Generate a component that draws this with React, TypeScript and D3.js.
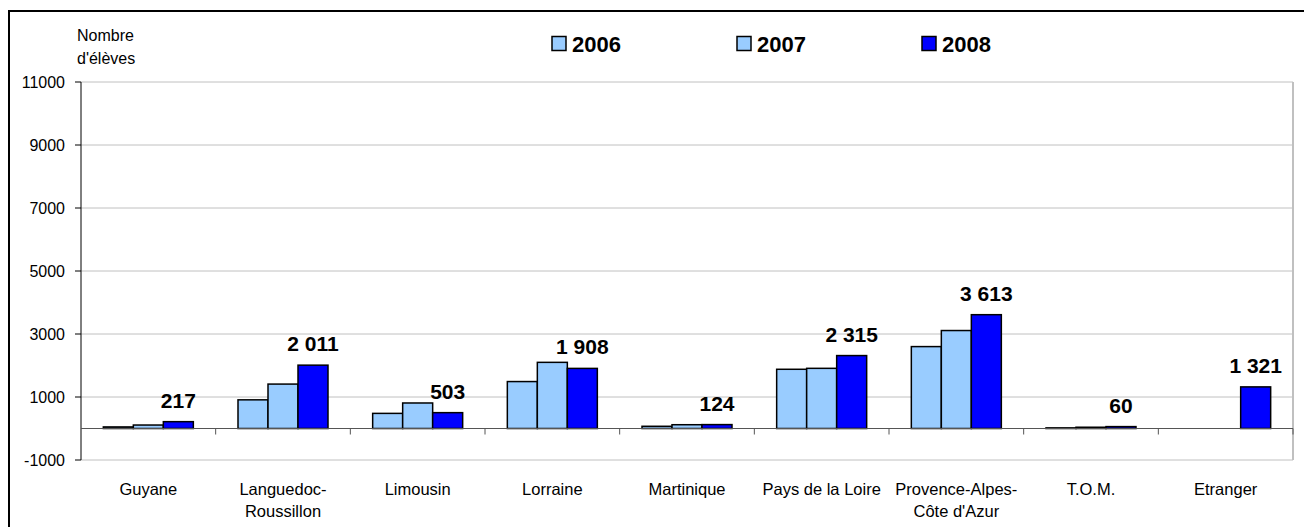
import React from "react";
import * as d3 from "d3";

const categories = [
  "Guyane",
  "Languedoc-\nRoussillon",
  "Limousin",
  "Lorraine",
  "Martinique",
  "Pays de la Loire",
  "Provence-Alpes-\nCôte d'Azur",
  "T.O.M.",
  "Etranger",
];
const seriesNames = ["2006", "2007", "2008"];
const values2006 = [50, 910, 480, 1490, 70, 1880, 2600, 20, 0];
const values2007 = [110, 1410, 810, 2100, 120, 1910, 3110, 40, 0];
const values2008 = [217, 2011, 503, 1908, 124, 2315, 3613, 60, 1321];
const yTicks = [-1000, 1000, 3000, 5000, 7000, 9000, 11000];
const colors = ["#99CCFF", "#99CCFF", "#0000FF"];

const W = 1304;
const H = 527;
const FONT = "'Liberation Sans', Arial, Helvetica, sans-serif";

export default function App() {
  const series = [values2006, values2007, values2008];
  const x = d3.scaleBand<string>().domain(categories).range([81, 1293]).paddingInner(0).paddingOuter(0);
  const groupW = 90;
  const xs = d3
    .scaleBand<string>()
    .domain(seriesNames)
    .range([(x.bandwidth() - groupW) / 2, (x.bandwidth() + groupW) / 2]);
  const y = d3.scaleLinear().domain([-1000, 11000]).range([460, 82]);
  const fmt = d3.formatLocale({ decimal: ",", thousands: "\u00a0", grouping: [3], currency: ["", "€"] }).format(",d");
  const [x0, x1] = x.range();

  return (
    <svg
      width={W}
      height={H}
      style={{ position: "absolute", left: 0, top: 0, background: "#fff" }}
      fontFamily={FONT}
    >
      <rect x={0} y={0} width={W} height={H} fill="#fff" />
      {/* outer frame */}
      <rect x={9} y={11} width={W + 10} height={H + 10} fill="none" stroke="#000" strokeWidth={2} />

      {/* gridlines */}
      {yTicks.map((t) => (
        <line key={t} x1={x0} x2={x1} y1={y(t)} y2={y(t)} stroke="#c0c0c0" strokeWidth={1} />
      ))}
      {/* plot area right border */}
      <line x1={x1} x2={x1} y1={y(11000)} y2={y(-1000)} stroke="#c0c0c0" strokeWidth={2} />

      {/* y axis */}
      <line x1={x0} x2={x0} y1={y(11000)} y2={y(-1000)} stroke="#000" strokeWidth={1} />
      {yTicks.map((t) => (
        <g key={"yt" + t}>
          <line x1={x0 - 6} x2={x0} y1={y(t)} y2={y(t)} stroke="#000" />
          <text x={65} y={y(t)} dy="0.36em" textAnchor="end" fontSize={16} fill="#000">
            {t}
          </text>
        </g>
      ))}

      {/* bars */}
      {categories.map((c, i) => (
        <g key={c} transform={`translate(${x(c)},0)`}>
          {series.map((s, j) => {
            const v = s[i];
            const top = y(Math.max(v, 0));
            const h = Math.abs(y(v) - y(0));
            return (
              <rect
                key={j}
                x={xs(seriesNames[j])}
                y={top}
                width={xs.bandwidth()}
                height={h}
                fill={colors[j]}
                stroke="#000"
                strokeWidth={1.5}
              />
            );
          })}
          <text
            x={(xs(seriesNames[2]) as number) + xs.bandwidth() / 2}
            y={y(values2008[i]) - 14}
            textAnchor="middle"
            fontSize={21}
            fontWeight="bold"
            fill="#000"
          >
            {fmt(values2008[i])}
          </text>
        </g>
      ))}

      {/* x axis at zero */}
      <line x1={x0} x2={x1} y1={y(0)} y2={y(0)} stroke="#555" strokeWidth={1} />
      {categories.map((c) => (
        <line
          key={"xt" + c}
          x1={(x(c) as number) + x.bandwidth()}
          x2={(x(c) as number) + x.bandwidth()}
          y1={y(0)}
          y2={y(0) + 6}
          stroke="#555"
        />
      ))}
      {categories.map((c) => {
        const lines = c.split("\n");
        return (
          <text key={"xl" + c} x={(x(c) as number) + x.bandwidth() / 2} y={495} textAnchor="middle" fontSize={16.5} fill="#000">
            {lines.map((l, k) => (
              <tspan key={k} x={(x(c) as number) + x.bandwidth() / 2} dy={k === 0 ? 0 : 21.5}>
                {l}
              </tspan>
            ))}
          </text>
        );
      })}

      {/* axis title */}
      <text x={77} y={41} fontSize={16} fill="#000">
        <tspan x={77}>Nombre</tspan>
        <tspan x={77} dy={23}>d'élèves</tspan>
      </text>

      {/* legend */}
      {seriesNames.map((n, j) => {
        const lx = [552, 737, 922][j];
        return (
          <g key={"lg" + n}>
            <rect x={lx} y={36.5} width={14} height={14} fill={colors[j]} stroke="#000" strokeWidth={1.5} />
            <text x={lx + 20} y={52} fontSize={22} fontWeight="bold" fill="#000">
              {n}
            </text>
          </g>
        );
      })}
    </svg>
  );
}
